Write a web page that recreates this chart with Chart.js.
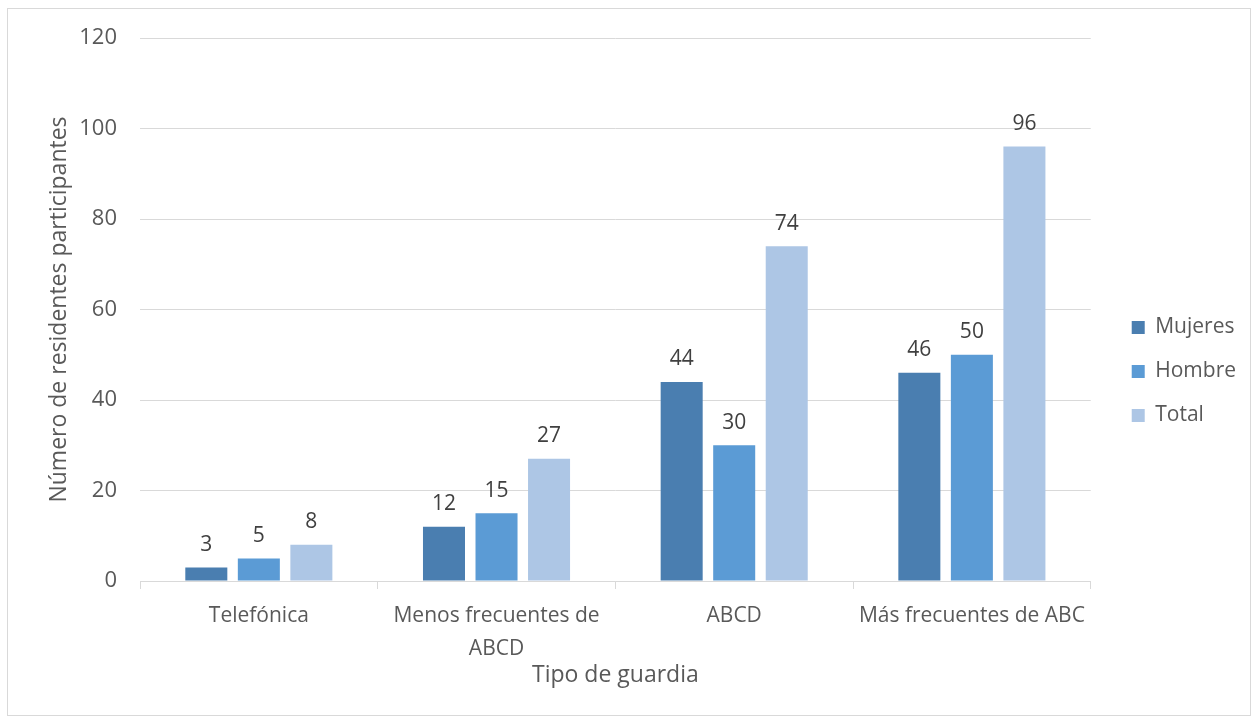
<!DOCTYPE html>
<html lang="es">
<head>
<meta charset="utf-8">
<script src="https://cdn.jsdelivr.net/npm/chart.js@4/dist/chart.umd.min.js"></script>
<style>
  html, body { margin: 0; padding: 0; background: #fff; }
  #marco {
    position: absolute; left: 7px; top: 8px;
    width: 1242px; height: 706px;
    border: 1px solid #d9d9d9;
  }
  canvas { display: block; }
</style>
</head>
<body>
<div id="marco"><canvas id="grafico"></canvas></div>
<script>
// Datos por tipo de guardia
const categorias = ["Telefónica", ["Menos frecuentes de", "ABCD"], "ABCD", "Más frecuentes de ABC"];
const mujeres = [3, 12, 44, 46];
const hombres = [5, 15, 30, 50];
const total = [8, 27, 74, 96];
const ejeYMin = 0;
const ejeYMax = 120;
const ejeYPaso = 20;

const fuente = '"Open Sans", "Liberation Sans", sans-serif';
const gris = "#595959";

// Escribe el valor encima de cada barra
const etiquetasValor = {
  id: "etiquetasValor",
  afterDatasetsDraw(chart) {
    const ctx = chart.ctx;
    ctx.save();
    ctx.font = "21px " + fuente;
    ctx.fillStyle = "#404040";
    ctx.textAlign = "center";
    ctx.textBaseline = "bottom";
    chart.data.datasets.forEach((ds, i) => {
      chart.getDatasetMeta(i).data.forEach((barra, j) => {
        ctx.fillText(ds.data[j], barra.x, barra.y - 12);
      });
    });
    ctx.restore();
  }
};

// La leyenda queda un poco más a la derecha y algo más arriba
const desplazarLeyenda = {
  id: "desplazarLeyenda",
  afterLayout(chart) {
    const dx = 18;
    const dy = -5;
    chart.legend.left += dx;
    chart.legend.right += dx;
    chart.legend.top += dy;
    chart.legend.bottom += dy;
  }
};

const data = {
  labels: categorias,
  datasets: [
    { label: "Mujeres", data: mujeres, backgroundColor: "#4a7eb0" },
    { label: "Hombre", data: hombres, backgroundColor: "#5b9bd5" },
    { label: "Total", data: total, backgroundColor: "#adc6e5" }
  ]
};

const options = {
  responsive: true,
  maintainAspectRatio: false,
  animation: false,
  datasets: {
    bar: { categoryPercentage: 0.663, barPercentage: 0.8 }
  },
  layout: { padding: { left: 0, right: 22, top: 29, bottom: 0 } },
  plugins: {
    legend: {
      position: "right",
      labels: {
        font: { family: fuente, size: 21 },
        color: gris,
        boxWidth: 13,
        boxHeight: 13,
        padding: 23
      }
    },
    tooltip: { enabled: false }
  },
  scales: {
    x: {
      grid: { drawOnChartArea: false, drawTicks: true, tickLength: 8, color: "#d9d9d9" },
      border: { color: "#d9d9d9" },
      ticks: {
        font: { family: fuente, size: 21, lineHeight: 1.55 },
        color: gris,
        padding: 11,
        maxRotation: 0,
        autoSkip: false
      },
      title: {
        display: true,
        text: "Tipo de guardia",
        font: { family: fuente, size: 23 },
        color: gris,
        padding: { top: 0, bottom: 26 }
      },
      afterFit(scale) { scale.height = 134; }
    },
    y: {
      min: ejeYMin,
      max: ejeYMax,
      grid: { drawTicks: false, color: "#d9d9d9" },
      border: { display: false },
      ticks: {
        stepSize: ejeYPaso,
        // lineHeight bajo para que las etiquetas no empujen el área hacia abajo
        font: { family: fuente, size: 22, lineHeight: 0.5 },
        color: gris,
        padding: 23
      },
      title: {
        display: true,
        text: "Número de residentes participantes",
        font: { family: fuente, size: 23 },
        color: gris,
        padding: { top: 38, bottom: 0 }
      },
      afterFit(scale) { scale.width = 132; }
    }
  }
};

const ctx = document.getElementById("grafico").getContext("2d");
new Chart(ctx, { type: "bar", data: data, options: options, plugins: [etiquetasValor, desplazarLeyenda] });
</script>
</body>
</html>
